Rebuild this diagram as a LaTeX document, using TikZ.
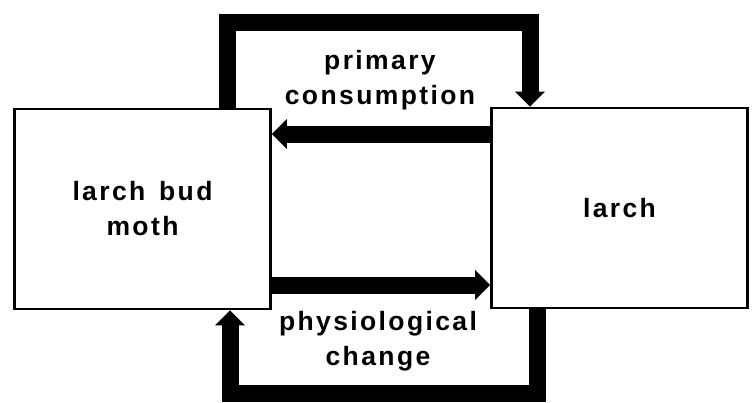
\documentclass[tikz,border=0pt]{standalone}
\usepackage{fontspec}
\setmainfont{Liberation Sans}[LetterSpace=9]
\usepackage{tikz}
\usetikzlibrary{arrows.meta, positioning, calc}
\newcommand{\labelsize}{\fontsize{26.5}{35}\selectfont\bfseries}
\tikzset{>={Triangle[length=15pt,width=29pt]},
	box/.style={draw, line width=2.6pt, minimum width=256pt, minimum height=200pt, align=center, font=\labelsize},
	flow/.style={line width=17pt, line join=miter},
	flowlabel/.style={align=center, font=\labelsize}}

\begin{document}
\begin{tikzpicture}[x=1pt, y=-1pt]
			\useasboundingbox (0,0) rectangle (755,402);
			\node [box] (bud) at (142.5,209) {larch\hspace{4pt} bud\\moth};
			\node [box] (larch) at (619.5,208) {larch};

			\coordinate (topleft) at (227,22);
			\coordinate (topright) at (530,22);
			\coordinate (botright) at (537,393);
			\coordinate (botleft) at (230,393);
			\coordinate (upper) at (0,134);
			\coordinate (lower) at (0,285);

			\draw [flow, ->] (bud.north -| topleft) -- (topleft) -- (topright) -- (topright |- larch.north);
			\draw [flow, ->] (larch.west |- upper) -- (bud.east |- upper);
			\draw [flow, ->] (bud.east |- lower) -- (larch.west |- lower);
			\draw [flow, ->] (larch.south -| botright) -- (botright) -- (botleft) -- (botleft |- bud.south);

			\node [flowlabel] (consumption) at (380,80) {primary\\consumption};
			\node [flowlabel] (change) at (378,341) {physiological\\change};
		\end{tikzpicture}
\end{document}
